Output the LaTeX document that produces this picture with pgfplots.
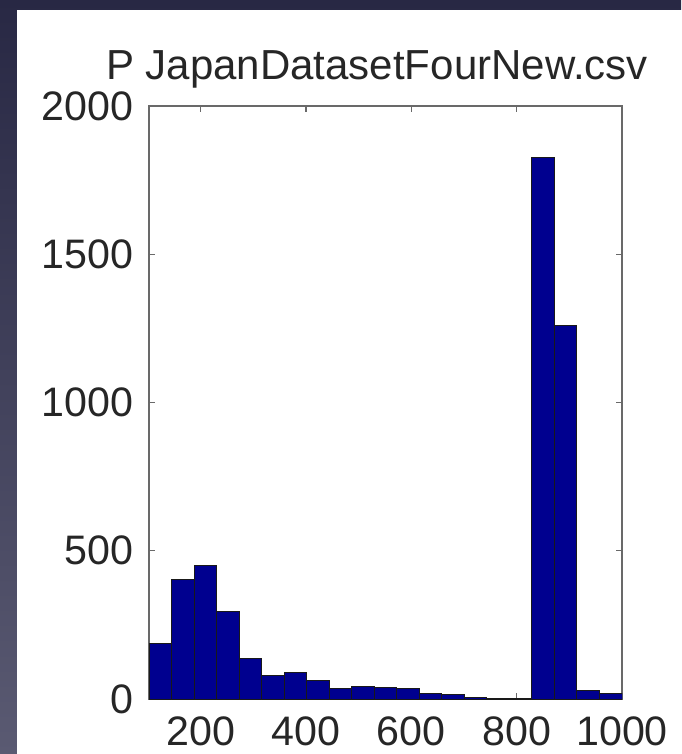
\documentclass[border=0pt]{standalone}
\usepackage{fontspec}
\setmainfont{Liberation Sans}
\usepackage{pgfplots}
\pgfplotsset{compat=1.18}

\definecolor{histblue}{RGB}{0,0,143}
\definecolor{bgtop}{RGB}{40,40,68}
\definecolor{bgbot}{RGB}{90,90,114}
\definecolor{axisgray}{RGB}{105,105,105}

\begin{document}
\begin{tikzpicture}[x=0.5pt,y=-0.5pt]
\useasboundingbox (0,0) rectangle (681,754);
% window background and white figure panel
\shade[top color=bgtop, bottom color=bgbot] (0,0) rectangle (681,754);
\fill[white] (17,10) rectangle (682,755);

\begin{axis}[
  at={(74.5pt,-349.5pt)}, anchor=south west,
  scale only axis, width=236.5pt, height=296.5pt,
  xmin=102, xmax=1000, ymin=0, ymax=2000,
  xtick={200,400,600,800,1000},
  ytick={0,500,1000,1500,2000},
  tick align=inside,
  major tick length=3pt,
  tick style={axisgray, line width=0.6pt},
  axis line style={axisgray, line width=0.7pt},
  /pgf/number format/assume math mode=true,
  /pgf/number format/1000 sep={},
  scaled ticks=false,
  ticklabel style={font=\fontsize{20.6}{24}\selectfont, text=black!85},
  yticklabel style={anchor=east, inner sep=0pt, xshift=-7.5pt},
  xticklabel style={anchor=north, inner sep=0pt, yshift=-8.5pt},
]
% 21 equal-width bins from 102 to 1000 (left edges; last row closes the final bin)
\addplot[ybar interval, fill=histblue, draw=black!90, line width=0.5pt] coordinates {
  (102.00,188) (144.76,404) (187.52,449) (230.29,295) (273.05,136)
  (315.81,78)  (358.57,88)  (401.33,63)  (444.10,34)  (486.86,42)
  (529.62,38)  (572.38,37)  (615.14,20)  (657.90,14)  (700.67,6)
  (743.43,3)   (786.19,2)   (828.95,1826) (871.71,1259) (914.48,28)
  (957.24,20)  (1000.00,20)
};
\end{axis}

\node[anchor=base, inner sep=0pt, text=black!85, font=\fontsize{21}{25}\selectfont]
  at (377,80) {P JapanDatasetFourNew.csv};
\end{tikzpicture}
\end{document}
